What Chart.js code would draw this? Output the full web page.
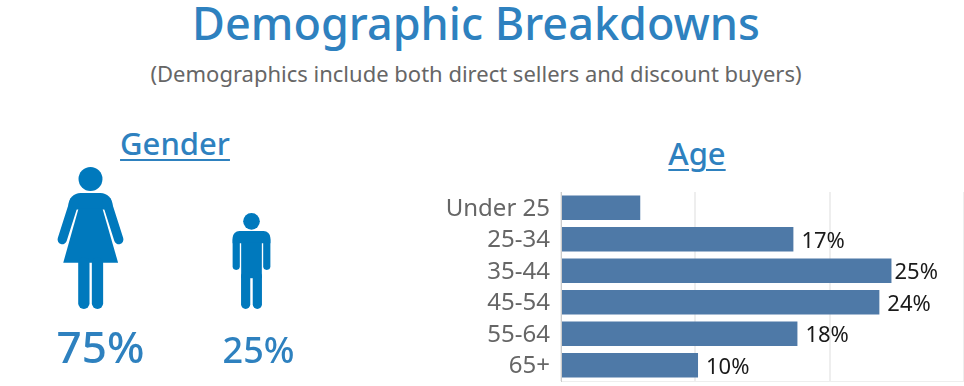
<!DOCTYPE html>
<html>
<head>
  <title>Demographic Breakdowns</title>
  <script src="https://cdn.jsdelivr.net/npm/chart.js@4/dist/chart.umd.min.js"></script>
  <style>
    html, body { margin: 0; padding: 0; background: #fff; }
    body { position: relative; width: 964px; height: 386px; overflow: hidden; font-family: "Noto Sans", sans-serif; }
    .txt { position: absolute; white-space: nowrap; transform: translateX(-50%); line-height: 1; }
    #title { left: 476px; top: 0px; font-size: 45px; font-weight: 500; color: #2e81bf; }
    #subtitle { left: 476px; top: 62px; font-size: 22px; color: #666; }
    .head { font-size: 31px; font-weight: 500; color: #2e81bf; text-decoration: underline; text-underline-offset: 4px; text-decoration-thickness: 2px; }
    #gender-head { left: 175px; top: 128px; }
    #age-head { left: 697px; top: 138px; }
    #genderBox { position: absolute; left: 10px; top: 100px; width: 322px; height: 286px; }
    #ageBox { position: absolute; left: 430px; top: 180px; width: 534px; height: 206px; }
  </style>
</head>
<body>
  <div id="title" class="txt">Demographic Breakdowns</div>
  <div id="subtitle" class="txt">(Demographics include both direct sellers and discount buyers)</div>
  <div id="gender-head" class="txt head">Gender</div>
  <div id="age-head" class="txt head">Age</div>
  <div id="genderBox"><canvas id="genderChart" width="322" height="286"></canvas></div>
  <div id="ageBox"><canvas id="ageChart" width="534" height="206"></canvas></div>

<script>
  var genderNames = ['Women', 'Men'];
  var genderShares = [75, 25];

  var ageGroups = ['Under 25', '25-34', '35-44', '45-54', '55-64', '65+'];
  var ageShares = [5.9, 17.3, 24.6, 23.7, 17.6, 10.2];
  var ageTicks = [0, 10, 20, 30];

  var iconBlue = '#0079bd';
  var headBlue = '#2e81bf';

  // icons are drawn in a 427 tall box, x = 0 is the middle of the figure
  function drawWoman(ctx) {
    ctx.beginPath();
    ctx.arc(0, 36, 36, 0, Math.PI * 2);
    ctx.fill();
    ctx.beginPath();
    ctx.roundRect(-66, 78, 132, 50, [36, 36, 0, 0]);
    ctx.fill();
    ctx.beginPath();
    ctx.moveTo(-36, 125);
    ctx.lineTo(36, 125);
    ctx.lineTo(83, 288);
    ctx.lineTo(-82, 288);
    ctx.closePath();
    ctx.fill();
    ctx.lineCap = 'round';
    ctx.lineWidth = 28;
    strokeLine(ctx, -49, 105, -85, 218);
    strokeLine(ctx, 49, 105, 85, 218);
    ctx.lineWidth = 34;
    strokeLine(ctx, -20, 288, -20, 410);
    strokeLine(ctx, 21, 288, 21, 410);
  }

  function drawMan(ctx) {
    ctx.beginPath();
    ctx.arc(0, 37, 37, 0, Math.PI * 2);
    ctx.fill();
    ctx.beginPath();
    ctx.roundRect(-84, 80, 168, 55, [30, 30, 0, 0]);
    ctx.fill();
    ctx.fillRect(-46, 130, 92, 160);
    ctx.lineCap = 'round';
    ctx.lineWidth = 32;
    strokeLine(ctx, -68, 120, -68, 237);
    strokeLine(ctx, 68, 120, 68, 237);
    ctx.lineWidth = 41;
    strokeLine(ctx, -26, 280, -26, 406);
    strokeLine(ctx, 26, 280, 26, 406);
  }

  function strokeLine(ctx, x1, y1, x2, y2) {
    ctx.beginPath();
    ctx.moveTo(x1, y1);
    ctx.lineTo(x2, y2);
    ctx.stroke();
  }

  var iconDrawers = [drawWoman, drawMan];
  var genderFonts = [44, 36];
  var genderLabelShift = [10, 7];

  // paints a figure inside each (invisible) bar and its percent underneath
  var figurePlugin = {
    id: 'figures',
    afterDatasetsDraw: function(chart) {
      var ctx = chart.ctx;
      chart.getDatasetMeta(0).data.forEach(function(bar, i) {
        var scale = (bar.base - bar.y) / 427;
        ctx.save();
        ctx.translate(bar.x, bar.y);
        ctx.scale(scale, scale);
        ctx.fillStyle = iconBlue;
        ctx.strokeStyle = iconBlue;
        iconDrawers[i](ctx);
        ctx.restore();

        ctx.save();
        ctx.fillStyle = headBlue;
        ctx.font = '500 ' + genderFonts[i] + 'px "Noto Sans"';
        ctx.textAlign = 'center';
        ctx.textBaseline = 'alphabetic';
        ctx.fillText(genderShares[i] + '%', bar.x + genderLabelShift[i], bar.base + 54);
        ctx.restore();
      });
    }
  };

  new Chart(document.getElementById('genderChart').getContext('2d'), {
    type: 'bar',
    data: {
      labels: genderNames,
      datasets: [{ data: genderShares, backgroundColor: 'rgba(0,0,0,0)' }]
    },
    options: {
      responsive: false,
      animation: false,
      layout: { padding: { top: 67, bottom: 77, left: 0, right: 0 } },
      plugins: { legend: { display: false }, tooltip: { enabled: false } },
      scales: {
        x: { display: false },
        // log axis so the figure heights keep the ratio of the original
        y: { display: false, type: 'logarithmic', min: 2.53, max: 75 }
      }
    },
    plugins: [figurePlugin]
  });

  // percent labels at the end of the age bars
  var ageLabelPlugin = {
    id: 'ageLabels',
    afterDatasetsDraw: function(chart) {
      var ctx = chart.ctx;
      ctx.save();
      ctx.fillStyle = '#1a1a1a';
      ctx.font = '22px "Noto Sans"';
      ctx.textAlign = 'left';
      ctx.textBaseline = 'middle';
      chart.getDatasetMeta(0).data.forEach(function(bar, i) {
        if (i === 0) return; // Under 25 has no label in the original
        var gap = ageShares[i] === Math.max.apply(null, ageShares) ? 3 : 8;
        ctx.fillText(Math.round(ageShares[i]) + '%', bar.x + gap, bar.y + 2);
      });
      ctx.restore();
    }
  };

  new Chart(document.getElementById('ageChart').getContext('2d'), {
    type: 'bar',
    data: {
      labels: ageGroups,
      datasets: [{
        data: ageShares,
        backgroundColor: '#4e79a7',
        categoryPercentage: 1,
        barPercentage: 0.77
      }]
    },
    options: {
      indexAxis: 'y',
      responsive: false,
      animation: false,
      layout: { padding: { top: 12, bottom: 5, left: 0, right: 0 } },
      plugins: { legend: { display: false }, tooltip: { enabled: false } },
      scales: {
        x: {
          min: 0,
          max: 30,
          afterBuildTicks: function(axis) {
            axis.ticks = ageTicks.map(function(v) { return { value: v }; });
          },
          ticks: { display: false },
          grid: { color: '#eeeeee', lineWidth: 2, drawTicks: false },
          border: { color: '#eeeeee' }
        },
        y: {
          // no extra room under the last label, keep the bars at full pitch
          afterFit: function(axis) { axis.width = 131; axis.paddingBottom = 0; axis.paddingTop = 0; },
          ticks: { color: '#666666', font: { family: 'Noto Sans', size: 24 }, padding: 11, autoSkip: false, labelOffset: 1 },
          grid: { display: false, drawTicks: false },
          border: { color: '#cccccc', dash: [2, 2] }
        }
      }
    },
    plugins: [ageLabelPlugin]
  });
</script>
</body>
</html>
